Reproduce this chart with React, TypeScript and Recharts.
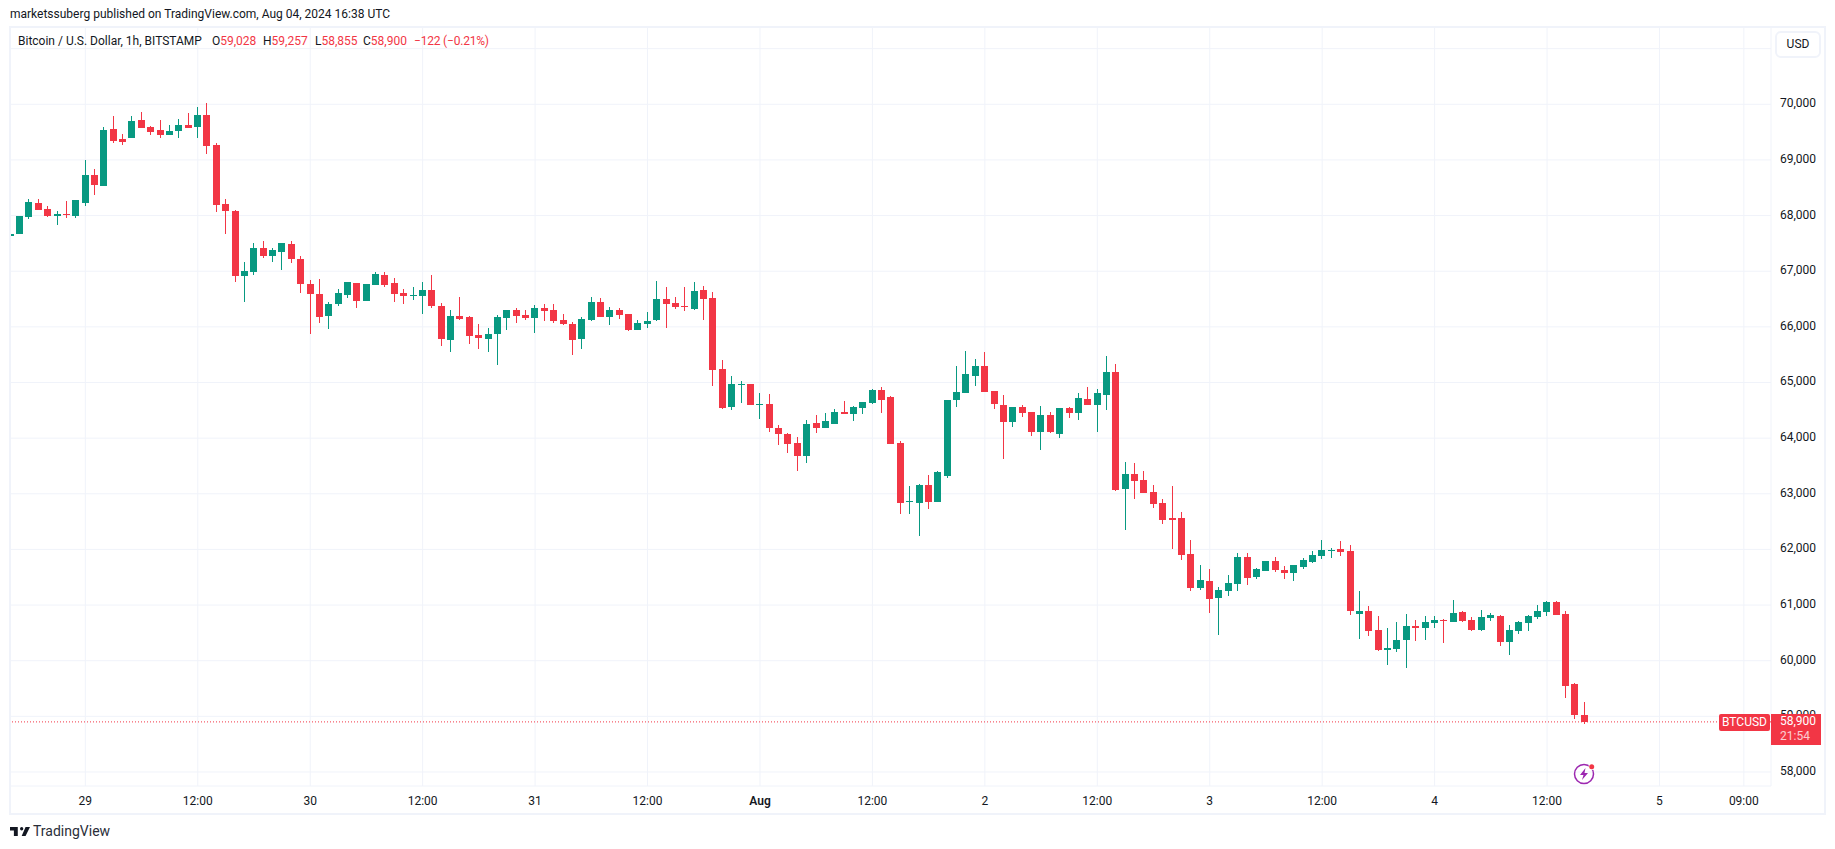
import React from 'react';
import { ComposedChart, Bar, XAxis, YAxis, CartesianGrid, ReferenceLine } from 'recharts';

// hourly candles, first one is Jul 28 16:00 UTC
const opens = [
  67634, 67670, 67976, 68227, 68119, 67993, 68029, 67993, 68227, 68730, 68533, 69557, 69377,
  69395, 69719, 69593, 69539, 69449, 69521, 69629, 69593, 69808, 69269, 68209, 68083, 66915,
  66987, 67418, 67275, 67347, 67490, 67221, 66771, 66592, 66196, 66412, 66574, 66789, 66466,
  66753, 66933, 66789, 66610, 66556, 66556, 66664, 66376, 65765, 66197, 66179, 65855, 65783,
  65873, 66161, 66304, 66215, 66161, 66340, 66304, 66125, 66053, 65783, 66125, 66448, 66179,
  66304, 66233, 65945, 66053, 66125, 66502, 66430, 66376, 66322, 66664, 66520, 65244, 64561,
  64957, 64975, 64597, 64615, 64184, 64076, 63914, 63681, 64274, 64184, 64256, 64472, 64436,
  64543, 64633, 64867, 64741, 63914, 62854, 62836, 63160, 62854, 63321, 64687, 64813, 65118,
  65298, 64849, 64597, 64292, 64561, 64472, 64112, 64418, 64076, 64543, 64454, 64705, 64597,
  64777, 65190, 63088, 63357, 63250, 63034, 62836, 62567, 62567, 61920, 61299, 61425, 61120,
  61245, 61371, 61856, 61497, 61605, 61784, 61623, 61569, 61677, 61766, 61874, 61964, 62000,
  61964, 60832, 60886, 60544, 60185, 60203, 60365, 60616, 60580, 60670, 60724, 60688, 60868,
  60724, 60544, 60760, 60796, 60329, 60526, 60670, 60778, 60868, 61048, 60832, 59574, 59028,
];
const highs = [
  67742, 67993, 68299, 68299, 68173, 68083, 68263, 68281, 69000, 68838, 69593, 69790, 69467,
  69790, 69862, 69611, 69719, 69629, 69737, 69844, 69952, 70024, 69305, 68299, 68101, 67167,
  67508, 67544, 67413, 67508, 67544, 67275, 66843, 66861, 66448, 66682, 66807, 66789, 66771,
  66987, 66987, 66879, 66682, 66718, 66807, 66933, 66430, 66304, 66538, 66197, 66053, 65981,
  66215, 66304, 66340, 66304, 66394, 66412, 66412, 66233, 66089, 66179, 66538, 66520, 66358,
  66340, 66233, 66125, 66269, 66826, 66718, 66538, 66718, 66808, 66736, 66628, 65406, 65118,
  65029, 64975, 64813, 64795, 64238, 64094, 64022, 64328, 64418, 64454, 64525, 64669, 64579,
  64651, 64885, 64921, 64759, 63950, 63142, 63178, 63339, 63411, 64687, 65298, 65568, 65424,
  65550, 64849, 64777, 64561, 64597, 64472, 64579, 64472, 64543, 64561, 64813, 64921, 64885,
  65478, 65334, 63573, 63555, 63411, 63160, 62908, 63142, 62675, 62171, 61713, 61641, 61317,
  61533, 61928, 61928, 61659, 61784, 61856, 61695, 61713, 61838, 61964, 62162, 62018, 62144,
  62072, 61245, 60976, 60796, 60580, 60688, 60832, 60724, 60796, 60796, 60742, 61084, 60886,
  60778, 60904, 60850, 60814, 60634, 60706, 60814, 60994, 61066, 61066, 60886, 59592, 59257,
];
const lows = [
  67634, 67670, 67946, 68101, 67976, 67832, 67964, 67964, 68173, 68371, 68533, 69305, 69263,
  69395, 69575, 69449, 69395, 69449, 69395, 69575, 69395, 69108, 68065, 67670, 66807, 66448,
  66933, 67239, 67167, 67023, 67149, 66610, 65873, 66071, 65963, 66376, 66520, 66340, 66466,
  66753, 66718, 66448, 66412, 66484, 66232, 66340, 65658, 65550, 66125, 65694, 65604, 65550,
  65316, 65945, 66071, 66125, 65891, 66107, 66071, 66035, 65496, 65604, 66107, 66179, 66035,
  66143, 65927, 65945, 65981, 66107, 65981, 66322, 66287, 66304, 66125, 64939, 64525, 64507,
  64633, 64597, 64346, 64112, 63879, 63735, 63411, 63555, 64094, 64184, 64256, 64436, 64310,
  64436, 64615, 64454, 63897, 62639, 62639, 62243, 62728, 62854, 63286, 64561, 64813, 64939,
  64831, 64525, 63627, 64202, 64382, 64040, 63789, 64094, 64004, 64364, 64328, 64597, 64112,
  64507, 63052, 62351, 62908, 63016, 62746, 62459, 62010, 61812, 61260, 61263, 60850, 60455,
  61155, 61245, 61353, 61461, 61605, 61587, 61461, 61425, 61641, 61748, 61820, 61838, 61874,
  60814, 60383, 60437, 60167, 59916, 60149, 59862, 60347, 60365, 60580, 60311, 60688, 60688,
  60526, 60526, 60706, 60257, 60095, 60473, 60526, 60742, 60796, 60814, 59323, 58945, 58855,
];
const closes = [
  67664, 67993, 68245, 68101, 67993, 68029, 68011, 68281, 68730, 68551, 69539, 69341, 69323,
  69701, 69575, 69503, 69449, 69521, 69629, 69575, 69808, 69251, 68191, 68083, 66915, 67005,
  67418, 67275, 67383, 67508, 67221, 66771, 66592, 66178, 66412, 66610, 66807, 66466, 66771,
  66951, 66753, 66592, 66556, 66574, 66664, 66376, 65783, 66197, 66143, 65837, 65801, 65873,
  66179, 66304, 66197, 66161, 66340, 66287, 66107, 66053, 65765, 66143, 66448, 66179, 66304,
  66215, 65945, 66071, 66107, 66502, 66412, 66358, 66358, 66646, 66502, 65226, 64543, 64975,
  64975, 64597, 64615, 64184, 64076, 63897, 63681, 64256, 64184, 64310, 64472, 64436, 64561,
  64651, 64867, 64687, 63897, 62836, 62872, 63160, 62854, 63393, 64687, 64831, 65154, 65298,
  64831, 64615, 64292, 64561, 64454, 64112, 64418, 64112, 64543, 64454, 64723, 64597, 64813,
  65190, 63070, 63357, 63232, 63016, 62818, 62531, 62531, 61902, 61300, 61443, 61102, 61263,
  61389, 61856, 61479, 61641, 61784, 61623, 61569, 61713, 61802, 61892, 61982, 61982, 61946,
  60886, 60886, 60527, 60185, 60221, 60365, 60616, 60580, 60688, 60724, 60706, 60850, 60706,
  60544, 60778, 60814, 60329, 60544, 60688, 60796, 60886, 61048, 60814, 59538, 59017, 58900,
];

const priceTicks = [58000, 59000, 60000, 61000, 62000, 63000, 64000, 65000, 66000, 67000, 68000, 69000, 70000, 71000];
// hours since Jul 29 00:00 and what the time scale prints there
const timeTicks = [0, 12, 24, 36, 48, 60, 72, 84, 96, 108, 120, 132, 144, 156, 168, 177];
const timeLabels = ['29', '12:00', '30', '12:00', '31', '12:00', 'Aug', '12:00', '2', '12:00', '3', '12:00', '4', '12:00', '5', '09:00'];
const lastPrice = 58900;

const UP = '#089981';
const DOWN = '#F23645';
const GRID = '#F0F3FA';
const INK = '#131722';
const FONT = 'Roboto, sans-serif';

const candles = opens.map((open, i) => ({
  hour: i - 8,
  wick: [lows[i], highs[i]],
  body: [Math.min(open, closes[i]), Math.max(open, closes[i])],
  up: closes[i] >= open,
}));

const CandlePart = (props: any) => {
  const { x, y, width, height, payload } = props;
  return (
    <rect
      x={Math.round(x)}
      y={y}
      width={width}
      height={Math.max(height, 1)}
      fill={payload.up ? UP : DOWN}
      shapeRendering="crispEdges"
    />
  );
};

const TimeTick = (props: any) => {
  const { x, y, payload } = props;
  const label = timeLabels[timeTicks.indexOf(payload.value)];
  return (
    <text x={x} y={y} textAnchor="middle" dy={11} fontFamily={FONT} fontSize={12} fontWeight={label === 'Aug' ? 600 : 400} fill={INK}>
      {label}
    </text>
  );
};

// sits under the last-price badge, so the 59,000 label is cut like on the site
const PriceTick = (props: any) => {
  const { y, payload } = props;
  if (payload.value === 71000) return <g />;
  return (
    <text x={1780} y={y} dy={3} textAnchor="start" fontFamily={FONT} fontSize={12} fill={INK}>
      {payload.value.toLocaleString('en-US')}
    </text>
  );
};

const App: React.FC = () => {
  return (
    <div style={{ position: 'absolute', left: 0, top: 0, width: 1835, height: 849, background: '#fff', overflow: 'hidden', fontFamily: FONT, color: INK }}>
      <div style={{ position: 'absolute', left: 10, top: 7, fontSize: 12, whiteSpace: 'nowrap' }}>
        marketssuberg published on TradingView.com, Aug 04, 2024 16:38 UTC
      </div>

      <ComposedChart
        width={1835}
        height={849}
        data={candles}
        margin={{ top: 27, right: 10, bottom: 36, left: 10 }}
        style={{ position: 'absolute', left: 0, top: 0 }}
      >
        <CartesianGrid stroke={GRID} strokeWidth={1} />
        <XAxis
          dataKey="hour"
          type="number"
          domain={[-8.04, 179.9]}
          ticks={timeTicks}
          allowDataOverflow
          interval={0}
          height={27}
          axisLine={false}
          tickLine={false}
          tick={<TimeTick />}
        />
        <XAxis xAxisId="wick" dataKey="hour" type="number" domain={[-8.04, 179.9]} allowDataOverflow hide />
        <YAxis
          orientation="right"
          type="number"
          domain={[57748, 71389]}
          ticks={priceTicks}
          allowDataOverflow
          interval={0}
          width={54}
          axisLine={false}
          tickLine={false}
          tick={<PriceTick />}
        />
        <ReferenceLine y={lastPrice} stroke={DOWN} strokeDasharray="1 2" />
        <Bar xAxisId="wick" dataKey="wick" barSize={1} shape={<CandlePart />} isAnimationActive={false} />
        <Bar dataKey="body" barSize={7} shape={<CandlePart />} isAnimationActive={false} />
      </ComposedChart>

      {/* frame around chart */}
      <div style={{ position: 'absolute', left: 9, top: 26, width: 1813, height: 785, border: `2px solid ${GRID}`, pointerEvents: 'none' }} />

      <div style={{ position: 'absolute', left: 18, top: 34, fontSize: 12, whiteSpace: 'nowrap' }}>
        Bitcoin / U.S. Dollar, 1h, BITSTAMP
        <span style={{ position: 'absolute', left: 194 }}>O<span style={{ color: DOWN }}>59,028</span></span>
        <span style={{ position: 'absolute', left: 245 }}>H<span style={{ color: DOWN }}>59,257</span></span>
        <span style={{ position: 'absolute', left: 297 }}>L<span style={{ color: DOWN }}>58,855</span></span>
        <span style={{ position: 'absolute', left: 345 }}>C<span style={{ color: DOWN }}>58,900</span></span>
        <span style={{ position: 'absolute', left: 396, color: DOWN, letterSpacing: -0.2 }}>−122 (−0.21%)</span>
      </div>

      <div style={{ position: 'absolute', left: 1775, top: 31, width: 42, height: 23, border: `2px solid ${GRID}`, borderRadius: 6, background: '#fff', fontSize: 12, lineHeight: '23px', textAlign: 'center' }}>
        USD
      </div>

      <div style={{ position: 'absolute', left: 1719, top: 714, width: 51, height: 17, background: DOWN, color: '#fff', borderRadius: 2, fontSize: 12, lineHeight: '17px', textAlign: 'center' }}>
        BTCUSD
      </div>
      <div style={{ position: 'absolute', left: 1771, top: 714, width: 50, height: 31, background: DOWN, color: '#fff', fontSize: 12, lineHeight: '15px', paddingLeft: 9, boxSizing: 'border-box' }}>
        <div>58,900</div>
        <div style={{ opacity: 0.75 }}>21:54</div>
      </div>

      <svg style={{ position: 'absolute', left: 1572, top: 762 }} width={24} height={24} viewBox="0 0 24 24">
        <circle cx={12} cy={12} r={9.5} fill="none" stroke="#9C27B0" strokeWidth={1.5} />
        <path d="M13.5 6 L8 13 H11.5 L10 18 L16 11 H12.5 Z" fill="#9C27B0" />
        <circle cx={19.7} cy={4.7} r={3.2} fill="#fff" />
        <circle cx={19.7} cy={4.7} r={2.5} fill={DOWN} />
      </svg>

      <svg style={{ position: 'absolute', left: 10, top: 827 }} width={20} height={9} viewBox="0 0 36 16">
        <path d="M14 0H0v6h7v10h7V0zm14 16h-7l7-16h8l-8 16zM21 6a3 3 0 1 0 0-6 3 3 0 0 0 0 6z" fill={INK} />
      </svg>
      <div style={{ position: 'absolute', left: 33, top: 823, fontSize: 14, color: '#2a2e39', whiteSpace: 'nowrap' }}>TradingView</div>
    </div>
  );
};

export default App;
